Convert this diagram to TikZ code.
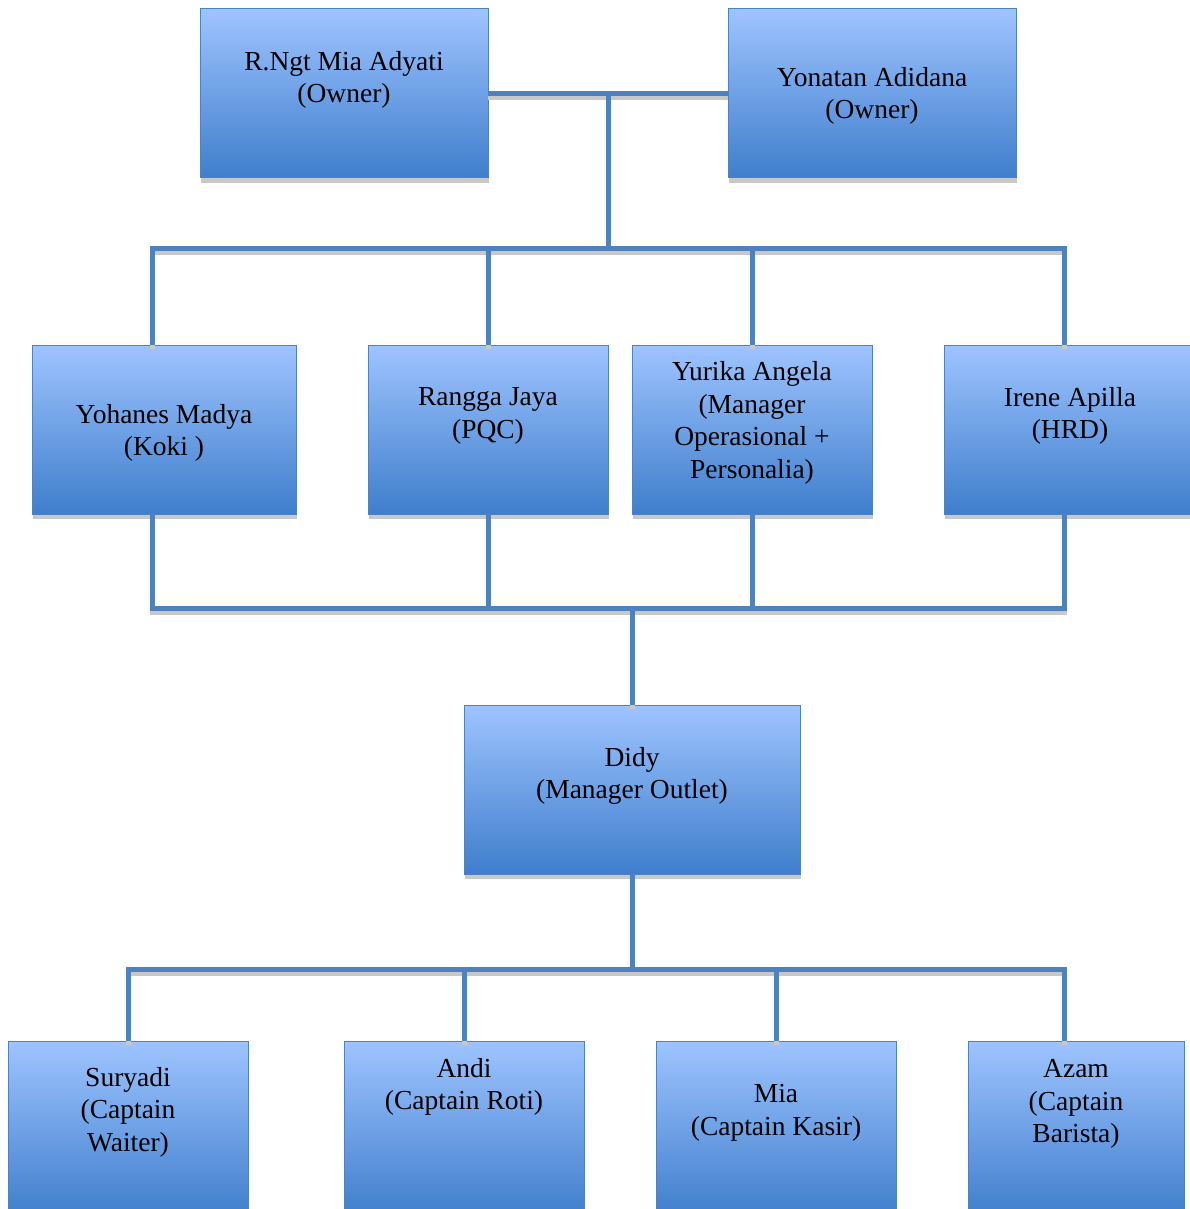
\documentclass[tikz,border=0pt]{standalone}
\usepackage{fontspec}
\setmainfont{Liberation Serif}
\usetikzlibrary{shadows}
\definecolor{wireblue}{HTML}{4F81BD}
\definecolor{boxtop}{HTML}{9EC4FF}
\definecolor{boxbot}{HTML}{3F7ECC}
\definecolor{shadowgray}{HTML}{C8C8C8}
\tikzset{
  orgbox/.style={draw=wireblue, line width=1pt, top color=boxtop, bottom color=boxbot,
    inner sep=0pt, outer sep=0pt, anchor=north west,
    drop shadow={shadow xshift=1pt, shadow yshift=-5pt, fill=shadowgray, opacity=1}},
  orgtext/.style={align=center, inner sep=0pt, font=\fontsize{27.5}{32.5}\selectfont},
  wire/.style={draw=wireblue, line width=5pt, line join=miter},
  wireshadow/.style={draw=shadowgray, line width=5pt, line join=miter, transform canvas={yshift=-4pt}}
}
\newcommand\orgwires[1]{%
  \draw[#1] (o1.east) -- (o2.west);
  \draw[#1] (j1) -- (b1);
  \draw[#1] (b1L|-A.north) -- (b1L) -- (b1R) -- (b1R|-D.north);
  \draw[#1] (b1B) -- (b1B|-B.north);
  \draw[#1] (b1C) -- (b1C|-C.north);
  \draw[#1] (b2L|-A.south) -- (b2L) -- (b2R) -- (b2R|-D.south);
  \draw[#1] (b2B|-B.south) -- (b2B);
  \draw[#1] (b2C|-C.south) -- (b2C);
  \draw[#1] (b2M) -- (M.north);
  \draw[#1] (M.south) -- (b3M);
  \draw[#1] (b3L|-S.north) -- (b3L) -- (b3R) -- (b3R|-Az.north);
  \draw[#1] (b3An) -- (b3An|-An.north);
  \draw[#1] (b3Mi) -- (b3Mi|-Mi.north);
}
\begin{document}
\begin{tikzpicture}[x=1pt,y=-1pt]
\useasboundingbox (0,0) rectangle (1190,1209);
\clip (0,0) rectangle (1190,1209);
% boxes
\node[orgbox, minimum width=288pt, minimum height=169pt] (o1) at (200,9) {};
\node[orgbox, minimum width=288pt, minimum height=169pt] (o2) at (728,9) {};
\node[orgbox, minimum width=264pt, minimum height=169pt] (A) at (32,345) {};
\node[orgbox, minimum width=240pt, minimum height=169pt] (B) at (368,345) {};
\node[orgbox, minimum width=240pt, minimum height=169pt] (C) at (632,345) {};
\node[orgbox, minimum width=250pt, minimum height=169pt] (D) at (944,345) {};
\node[orgbox, minimum width=336pt, minimum height=169pt] (M) at (464,705) {};
\node[orgbox, minimum width=240pt, minimum height=176pt] (S) at (8,1041) {};
\node[orgbox, minimum width=240pt, minimum height=176pt] (An) at (344,1041) {};
\node[orgbox, minimum width=240pt, minimum height=176pt] (Mi) at (656,1041) {};
\node[orgbox, minimum width=216pt, minimum height=176pt] (Az) at (968,1041) {};
% texts
\node[orgtext] (t1) at (344,80) {R.Ngt Mia Adyati\\(Owner)};
\node[orgtext] (t2) at (872,96) {Yonatan Adidana\\(Owner)};
\node[orgtext] (tA) at (164,433) {Yohanes Madya\\(Koki )};
\node[orgtext] (tB) at (488,416) {Rangga Jaya\\(PQC)};
\node[orgtext] (tC) at (752,423) {Yurika Angela\\(Manager\\Operasional +\\Personalia)};
\node[orgtext] (tD) at (1070,416) {Irene Apilla\\(HRD)};
\node[orgtext] (tM) at (632,776) {Didy\\(Manager Outlet)};
\node[orgtext] (tS) at (128,1112) {Suryadi\\(Captain\\Waiter)};
\node[orgtext] (tAn) at (464,1087) {Andi\\(Captain Roti)};
\node[orgtext] (tMi) at (776,1113) {Mia\\(Captain Kasir)};
\node[orgtext] (tAz) at (1076,1104) {Azam\\(Captain\\Barista)};
% junction coordinates
\coordinate (j1) at (608,93.5);
\coordinate (b1) at (608,248);
\coordinate (b1L) at (152,248);
\coordinate (b1R) at (1064,248);
\coordinate (b1B) at (488,248);
\coordinate (b1C) at (752,248);
\coordinate (b2L) at (152,608);
\coordinate (b2R) at (1064,608);
\coordinate (b2B) at (488,608);
\coordinate (b2C) at (752,608);
\coordinate (b2M) at (632,608);
\coordinate (b3M) at (632,969);
\coordinate (b3L) at (128,969);
\coordinate (b3R) at (1064,969);
\coordinate (b3An) at (464,969);
\coordinate (b3Mi) at (776,969);
% wires
\orgwires{wireshadow}
\orgwires{wire}
\end{tikzpicture}
\end{document}
